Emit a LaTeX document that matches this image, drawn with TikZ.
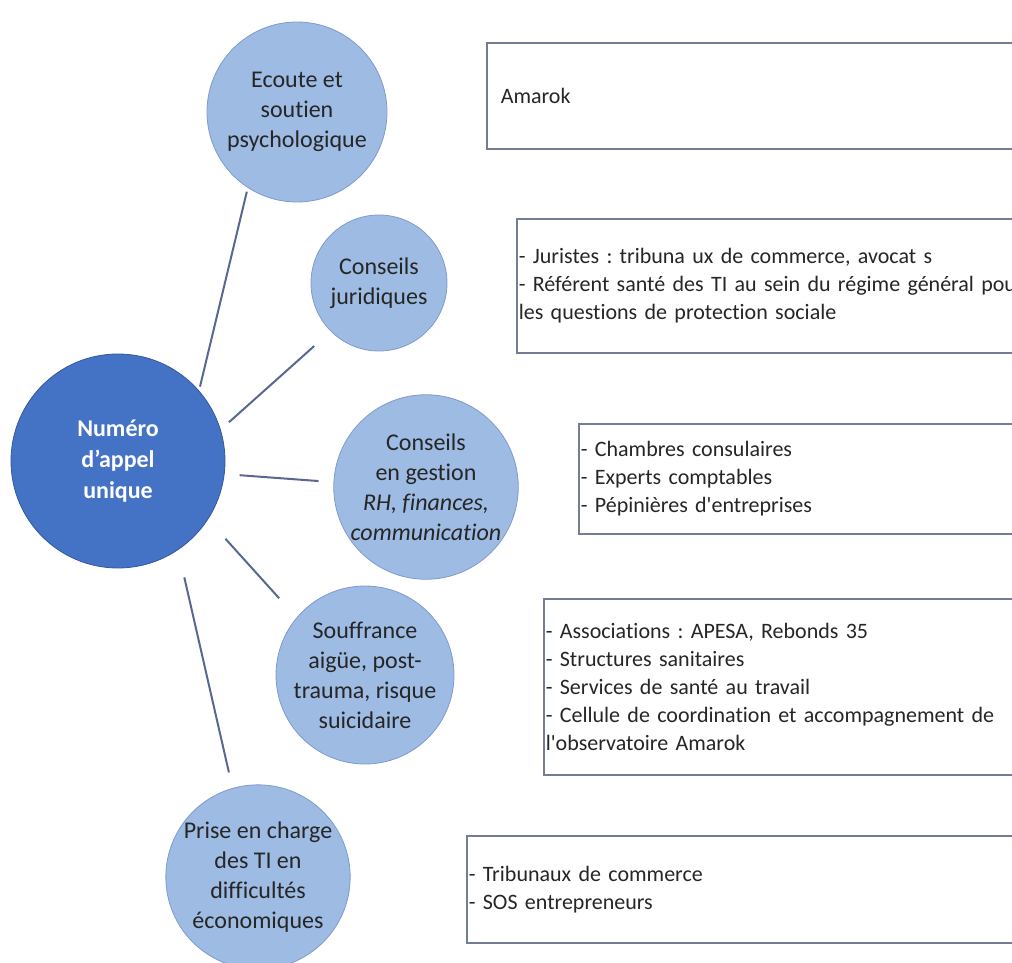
\documentclass[tikz,border=0pt]{standalone}
\usepackage{fontspec}
\setmainfont{Carlito}[Ligatures={NoCommon}]
\usepackage{xcolor}
\usepackage{tikz}
\definecolor{hubblue}{RGB}{68,114,196}
\definecolor{hubedge}{RGB}{50,88,158}
\definecolor{topicblue}{RGB}{157,187,227}
\definecolor{topicedge}{RGB}{125,155,205}
\definecolor{linkgray}{RGB}{88,104,145}
\definecolor{boxedge}{RGB}{115,125,148}
\definecolor{textgray}{RGB}{38,38,38}
\frenchspacing

\begin{document}
\begin{tikzpicture}[
    x=0.5pt, y=-0.5pt,
    hub/.style={circle, draw=hubedge, fill=hubblue, text=white, font=\fontsize{12}{15.5}\selectfont\bfseries, align=center, inner sep=0pt},
    topic/.style={circle, draw=topicedge, fill=topicblue, text=textgray, font=\fontsize{12}{15}\selectfont, align=center, inner sep=0pt},
    infobox/.style={rectangle, draw=boxedge, line width=0.8pt, fill=white, anchor=north west, text width=300pt, inner xsep=1pt, align=left, text=textgray, font=\fontsize{11}{14}\selectfont},
    link/.style={draw=linkgray, line width=1pt}
]
\useasboundingbox (0,0) rectangle (1012,963);
\clip (0,0) rectangle (1012,963);

\node[hub, minimum size=107pt] (numero) at (118,461) {Numéro\\d’appel\\unique};
\node[topic, minimum size=90pt] (ecoute) at (297,112) {Ecoute et\\soutien\\psychologique};
\node[topic, minimum size=68pt] (juridique) at (379,283) {Conseils\\juridiques};
\node[topic, minimum size=88pt] (gestion) at (426,487) {Conseils\\en gestion\\\textit{RH, finances,}\\\textit{communication}};
\node[topic, minimum size=80pt] (souffrance) at (365,675) {Souffrance\\aigüe, post-\\trauma, risque\\suicidaire};
\node[topic, minimum size=82pt] (prise) at (258,877) {Prise en charge\\des TI en\\difficultés\\économiques};

\node[infobox, minimum height=53pt, inner xsep=7pt] (amarok) at (486,42) {Amarok};
\node[infobox, minimum height=67pt] (juristes) at (516,218) {- Juristes : tribuna ux de commerce, avocat s\\- Référent santé des TI au sein du régime général pour\\les questions de protection sociale};
\node[infobox, minimum height=55pt] (chambres) at (578,423) {- Chambres consulaires\\- Experts comptables\\- Pépinières d\textquotesingle entreprises};
\node[infobox, minimum height=88pt] (associations) at (543,598) {- Associations : APESA, Rebonds 35\\- Structures sanitaires\\- Services de santé au travail\\- Cellule de coordination et accompagnement de\\l\textquotesingle observatoire Amarok};
\node[infobox, minimum height=53.5pt] (tribunaux) at (466,835) {- Tribunaux de commerce\\- SOS entrepreneurs};

\draw[link, shorten <=2pt, shorten >=2pt] (numero.41) -- (ecoute.237);
\draw[link, shorten <=5.5pt, shorten >=11pt] (numero.17) -- (juridique.225);
\draw[link, shorten <=7.5pt, shorten >=7.5pt] (numero.-7.5) -- (gestion.177);
\draw[link, shorten <=13pt, shorten >=13pt] (numero.-33) -- (souffrance.140);
\draw[link, shorten <=14pt, shorten >=8pt] (numero.-56) -- (prise.106);
\end{tikzpicture}
\end{document}
